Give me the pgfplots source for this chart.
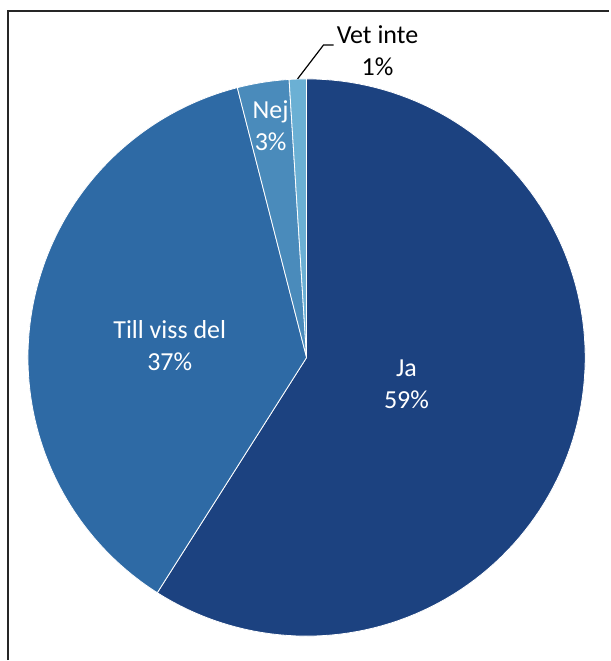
\documentclass[border=0pt]{standalone}
\usepackage{pgfplots}
\pgfplotsset{compat=1.18}
\usepackage{fontspec}
\setmainfont{Carlito}
\definecolor{cJa}{HTML}{1C4280}
\definecolor{cTill}{HTML}{2E6AA5}
\definecolor{cNej}{HTML}{4A8BBB}
\definecolor{cVet}{HTML}{6BB0D4}
\begin{document}
\begin{tikzpicture}
% data (percent)
\def\vJa{59}
\def\vTill{37}
\def\vNej{3}
\def\vVet{1}
\def\cx{307}
\def\cy{303}
\def\R{279}
\pgfmathsetmacro\aA{90}
\pgfmathsetmacro\aB{\aA-3.6*\vJa}
\pgfmathsetmacro\aC{\aB-3.6*\vTill}
\pgfmathsetmacro\aD{\aC-3.6*\vNej}
\pgfmathsetmacro\aE{\aD-3.6*\vVet}
\begin{axis}[hide axis, scale only axis, x=1bp, y=1bp,
  xmin=0, xmax=610, ymin=0, ymax=661, clip=false]
\path (axis cs:0,0) rectangle (axis cs:610,661);
\addplot[fill=cJa, draw=white, line width=0.8bp, domain=\aB:\aA, samples=120, variable=\t]
  ({\cx+\R*cos(\t)},{\cy+\R*sin(\t)}) -- (axis cs:\cx,\cy) -- cycle;
\addplot[fill=cTill, draw=white, line width=0.8bp, domain=\aC:\aB, samples=100, variable=\t]
  ({\cx+\R*cos(\t)},{\cy+\R*sin(\t)}) -- (axis cs:\cx,\cy) -- cycle;
\addplot[fill=cNej, draw=white, line width=0.8bp, domain=\aD:\aC, samples=20, variable=\t]
  ({\cx+\R*cos(\t)},{\cy+\R*sin(\t)}) -- (axis cs:\cx,\cy) -- cycle;
\addplot[fill=cVet, draw=white, line width=0.8bp, domain=\aE:\aD, samples=10, variable=\t]
  ({\cx+\R*cos(\t)},{\cy+\R*sin(\t)}) -- (axis cs:\cx,\cy) -- cycle;
% labels
\node[white, align=center, font=\fontsize{26bp}{32bp}\selectfont] at (axis cs:407,276) {Ja\\59\%};
\node[white, align=center, font=\fontsize{26bp}{32bp}\selectfont] at (axis cs:170,315) {Till viss del\\37\%};
\node[white, align=center, font=\fontsize{26bp}{32bp}\selectfont] at (axis cs:271,535) {Nej\\3\%};
\node[black, align=center, font=\fontsize{26bp}{32bp}\selectfont] at (axis cs:378,610) {Vet inte\\1\%};
\draw[black, line width=1.2bp] (axis cs:298,582) -- (axis cs:324,616) -- (axis cs:334,616);
% frame
\draw[black!85, line width=1.8bp] (axis cs:8,0) -- (axis cs:8,650) -- (axis cs:610,650);
\end{axis}
\end{tikzpicture}
\end{document}
